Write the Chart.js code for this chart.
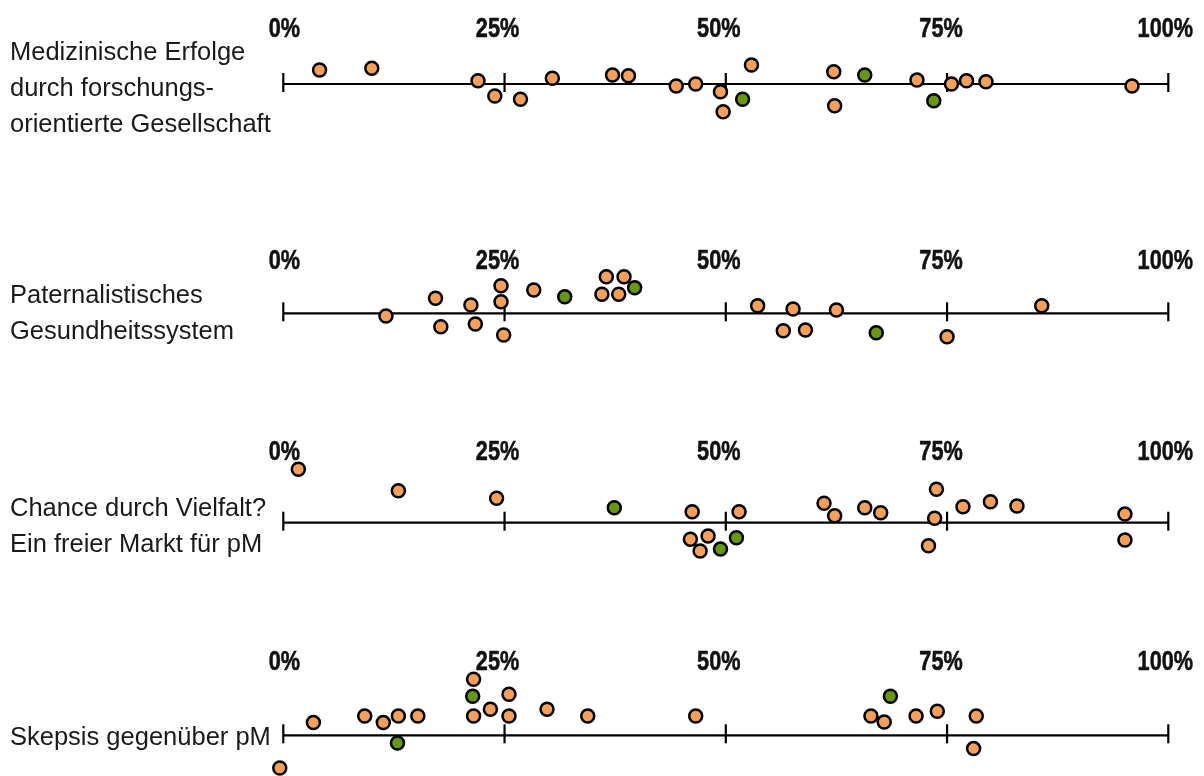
<!DOCTYPE html>
<html>
<head>
<meta charset="utf-8">
<script src="https://cdn.jsdelivr.net/npm/chart.js@4"></script>
<style>
  html, body { margin: 0; padding: 0; background: #fff; }
  #box { position: relative; width: 1204px; height: 776px; }
</style>
</head>
<body>
<div id="box"><canvas id="chart"></canvas></div>
<script>
// Kategorien (Zeilen), je Zeile die Textzeilen links
var kategorien = [
  ["Medizinische Erfolge", "durch forschungs-", "orientierte Gesellschaft"],
  ["Paternalistisches", "Gesundheitssystem"],
  ["Chance durch Vielfalt?", "Ein freier Markt für pM"],
  ["Skepsis gegenüber pM"]
];

var tickWerte = [0, 25, 50, 75, 100];
var tickLabels = ["0%", "25%", "50%", "75%", "100%"];

// Werte in %, Versatz (Streuung nach oben +), Gruppe o = orange, g = grün
var werte1 = [4.1, 10.0, 22.0, 23.9, 26.8, 30.4, 37.2, 39.0, 44.4, 46.6, 49.4, 49.7, 52.9, 51.9, 62.2, 62.3, 65.7, 71.6, 73.5, 75.5, 77.2, 79.4, 95.9];
var versatz1 = [14, 15.7, 3.3, -12, -15.3, 5.7, 9, 8.3, -2, 0, -7.7, -27.7, 19, -15.3, 12.3, -21.7, 9, 4, -16.7, 0, 3.3, 2.3, -2];
var gruppe1 = ["o", "o", "o", "o", "o", "o", "o", "o", "o", "o", "o", "o", "o", "g", "o", "o", "g", "o", "g", "o", "o", "o", "o"];

var werte2 = [11.6, 17.2, 17.8, 21.2, 21.7, 24.6, 24.6, 24.9, 28.3, 31.8, 36.0, 36.5, 37.9, 38.5, 39.7, 53.6, 57.6, 56.5, 59.0, 62.5, 67.0, 75.0, 85.7];
var versatz2 = [-2.7, 15, -13.4, 8.3, -10.7, 27.6, 11.6, -21.7, 23.3, 16.6, 19, 36.6, 19, 36.6, 25.6, 7.6, 4.3, -17.4, -16.7, 3.3, -19.4, -23.4, 7.6];
var gruppe2 = ["o", "o", "o", "o", "o", "o", "o", "o", "o", "g", "o", "o", "o", "o", "g", "o", "o", "o", "o", "o", "g", "o", "o"];

var werte3 = [1.7, 13.0, 24.1, 37.4, 46.2, 46.0, 48.0, 47.1, 49.4, 51.5, 51.2, 61.1, 62.3, 65.7, 67.5, 73.8, 73.6, 72.9, 76.8, 79.9, 82.9, 95.1, 95.1];
var versatz3 = [53.4, 32, 24.4, 15, 11, -16.6, -13.3, -28.3, -26.3, 11, -15, 19.4, 7, 15, 10, 33.4, 4.4, -23, 16, 21, 16.7, 8.7, -17.3];
var gruppe3 = ["o", "o", "o", "g", "o", "o", "o", "o", "g", "o", "g", "o", "o", "o", "o", "o", "o", "o", "o", "o", "o", "o", "o"];

var werte4 = [3.4, 9.2, 11.3, 13.0, 15.2, 12.9, -0.4, 21.5, 21.4, 21.5, 23.4, 25.5, 25.5, 29.8, 34.4, 46.6, 68.6, 66.4, 67.9, 71.5, 73.9, 78.3, 78.0];
var versatz4 = [12.7, 19.3, 12.7, 19.3, 19.3, -7.7, -32.7, 56, 39, 19.3, 26, 41, 19.3, 26, 19.3, 19.3, 39, 19.3, 13.3, 19.3, 24, 19.3, -13.3];
var gruppe4 = ["o", "o", "o", "o", "o", "g", "o", "o", "g", "o", "o", "o", "o", "o", "o", "o", "g", "o", "o", "o", "o", "o", "o"];

var alleWerte = [werte1, werte2, werte3, werte4];
var alleVersatz = [versatz1, versatz2, versatz3, versatz4];
var alleGruppen = [gruppe1, gruppe2, gruppe3, gruppe4];

// Layout: y-Lage der Achsen, der Prozentbeschriftung und der Kategorietexte (Pixel von oben)
var achseY = [84, 313.3, 522.7, 735.3];
var tickTextY = [36.5, 269, 460, 670];
var kategorieY = [[60, 96, 132], [303.3, 339.3], [516, 552], [745]];
var tickTextVersatz = [1, -7, -7, -6, -3];

var orange = "#F5A05A";
var gruen = "#66990F";

var punkteOrange = [];
var punkteGruen = [];
alleWerte.forEach(function (werte, i) {
  werte.forEach(function (w, j) {
    var p = { x: w, y: achseY[i] - alleVersatz[i][j] };
    if (alleGruppen[i][j] === "g") {
      punkteGruen.push(p);
    } else {
      punkteOrange.push(p);
    }
  });
});

var achsenPlugin = {
  id: "achsen",
  beforeDatasetsDraw: function (chart) {
    var ctx = chart.ctx;
    var xs = chart.scales.x;
    var ys = chart.scales.y;
    ctx.save();
    ctx.strokeStyle = "#000";
    achseY.forEach(function (ay, i) {
      var yp = ys.getPixelForValue(ay);
      ctx.lineWidth = 2.2;
      ctx.beginPath();
      ctx.moveTo(xs.getPixelForValue(0), yp);
      ctx.lineTo(xs.getPixelForValue(100), yp);
      ctx.stroke();

      tickWerte.forEach(function (t, k) {
        var xp = xs.getPixelForValue(t);
        ctx.lineWidth = 2.2;
        ctx.beginPath();
        ctx.moveTo(xp, yp - 11);
        ctx.lineTo(xp, yp + 8);
        ctx.stroke();

        // schmale fette Schrift: Liberation Sans horizontal gestaucht
        ctx.save();
        ctx.translate(xp + tickTextVersatz[k], ys.getPixelForValue(tickTextY[i]));
        ctx.scale(0.76, 1);
        ctx.font = "bold 28.5px 'Liberation Sans', Arial, sans-serif";
        ctx.fillStyle = "#111";
        ctx.strokeStyle = "#111";
        ctx.lineWidth = 0.6;
        ctx.textAlign = "center";
        ctx.textBaseline = "alphabetic";
        ctx.fillText(tickLabels[k], 0, 0);
        ctx.strokeText(tickLabels[k], 0, 0);
        ctx.restore();
      });

      ctx.font = "25.5px 'Liberation Sans', Arial, sans-serif";
      ctx.textAlign = "left";
      ctx.textBaseline = "alphabetic";
      ctx.fillStyle = "#1a1a1a";
      kategorien[i].forEach(function (zeile, z) {
        ctx.fillText(zeile, 10, ys.getPixelForValue(kategorieY[i][z]));
      });
    });
    ctx.restore();
  }
};

new Chart(document.getElementById("chart"), {
  type: "scatter",
  data: {
    datasets: [
      {
        label: "orange",
        data: punkteOrange,
        backgroundColor: orange,
        borderColor: "#000",
        borderWidth: 2.5,
        pointRadius: 6.5,
        clip: false
      },
      {
        label: "grün",
        data: punkteGruen,
        backgroundColor: gruen,
        borderColor: "#000",
        borderWidth: 2.5,
        pointRadius: 6.5,
        clip: false
      }
    ]
  },
  options: {
    responsive: true,
    maintainAspectRatio: false,
    animation: false,
    layout: { autoPadding: false, padding: { left: 283.3, right: 35.7, top: 0, bottom: 0 } },
    plugins: { legend: { display: false }, tooltip: { enabled: false } },
    scales: {
      x: { type: "linear", min: 0, max: 100, display: false },
      y: { type: "linear", min: 0, max: 776, reverse: true, display: false }
    }
  },
  plugins: [achsenPlugin]
});
</script>
</body>
</html>
